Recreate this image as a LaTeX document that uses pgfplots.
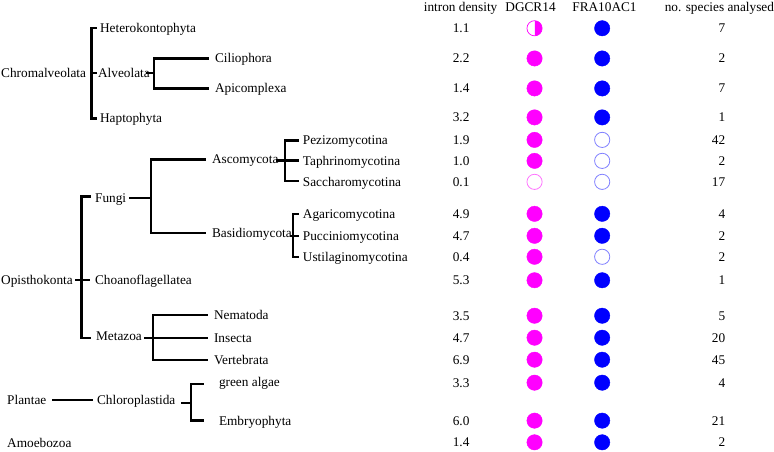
\documentclass[border=0pt]{standalone}
\usepackage{pgfplots}
\pgfplotsset{compat=1.18}
\usetikzlibrary{plotmarks}
\usepackage{fontspec}
\setmainfont{Liberation Serif}
\definecolor{mag}{RGB}{255,0,255}
\definecolor{blu}{RGB}{0,0,255}
\begin{document}
\begin{tikzpicture}[font=\fontsize{13.3}{15}\selectfont]
\begin{axis}[scale only axis, width=774pt, height=452pt,
  xmin=0, xmax=774, ymin=0, ymax=452, y dir=reverse, hide axis, clip=false,
  tree/.style={black, line width=2.3pt, mark=none, line join=miter, line cap=rect}]
% ---- tree lines ----
\addplot[tree] coordinates {(96,28.3)(91.7,28.3)(91.7,118.5)(96,118.5)};
\addplot[tree] coordinates {(91.7,73)(96,73)};
\addplot[tree] coordinates {(147,73)(154,73)};
\addplot[tree] coordinates {(208,58.5)(154,58.5)(154,88.5)(208,88.5)};
\addplot[tree] coordinates {(90,196.7)(81.7,196.7)(81.7,338)(90,338)};
\addplot[tree] coordinates {(76,280.5)(89,280.5)};
\addplot[tree] coordinates {(130,198)(151,198)};
\addplot[tree] coordinates {(205,159.5)(151,159.5)(151,233.5)(205,233.5)};
\addplot[tree] coordinates {(277,160.5)(298,160.5)};
\addplot[tree] coordinates {(298,140.5)(285,140.5)(285,181.5)(298,181.5)};
\addplot[tree] coordinates {(298,214)(293.3,214)(293.3,257)(298,257)};
\addplot[tree] coordinates {(291,236)(298,236)};
\addplot[tree] coordinates {(145,338)(207,338)};
\addplot[tree] coordinates {(207,315)(153,315)(153,360)(207,360)};
\addplot[tree, line width=1.8pt] coordinates {(53,400.5)(92,400.5)};
\addplot[tree] coordinates {(182,403)(191,403)};
\addplot[tree] coordinates {(203,384)(191,384)(191,421)(203,421)};
% ---- circles ----
\addplot[only marks, mark=*, mark size=7.7pt, mark options={draw=mag, fill=mag}] coordinates {
(535,58.5)(535,88.5)(535,117.5)(535,140)(535,161)(535,214)(535,236)(535,257)(535,280.5)
(535,316)(535,338)(535,360)(535,383)(535,421)(535,442.7)};
\addplot[only marks, mark=o, mark size=7.6pt, mark options={draw=mag!55, line width=0.8pt}] coordinates {(535,182)};
\addplot[only marks, mark=halfcircle*, mark size=7.6pt, mark options={draw=mag, fill=mag, line width=0.7pt, rotate=-90}] coordinates {(535,28.3)};
\addplot[only marks, mark=*, mark size=7.7pt, mark options={draw=blu, fill=blu}] coordinates {
(602.7,28.3)(602.7,58.5)(602.7,88.5)(602.7,117.5)(602.7,214)(602.7,236)(602.7,280.5)
(602.7,316)(602.7,338)(602.7,360)(602.7,383)(602.7,421)(602.7,442.7)};
\addplot[only marks, mark=o, mark size=7.6pt, mark options={draw=blu!50, line width=0.8pt}] coordinates {
(602.7,140)(602.7,161)(602.7,182)(602.7,257)};
% ---- tree labels ----
\begin{scope}[every node/.style={anchor=base west, inner sep=0pt, text=black}]
\node at (axis cs:1,77.5) {Chromalveolata};
\node at (axis cs:100,32.8) {Heterokontophyta};
\node at (axis cs:98,77.5) {Alveolata};
\node at (axis cs:215,63) {Ciliophora};
\node at (axis cs:215,93) {Apicomplexa};
\node at (axis cs:100,123) {Haptophyta};
\node at (axis cs:95,202.5) {Fungi};
\node at (axis cs:212,164) {Ascomycota};
\node at (axis cs:212,238) {Basidiomycota};
\node at (axis cs:303,144.5) {Pezizomycotina};
\node at (axis cs:303,165.5) {Taphrinomycotina};
\node at (axis cs:303,186.5) {Saccharomycotina};
\node at (axis cs:303,218.5) {Agaricomycotina};
\node at (axis cs:303,240.5) {Pucciniomycotina};
\node at (axis cs:303,261.5) {Ustilaginomycotina};
\node at (axis cs:1,285) {Opisthokonta};
\node at (axis cs:95,285) {Choanoflagellatea};
\node at (axis cs:96,341) {Metazoa};
\node at (axis cs:214,319.5) {Nematoda};
\node at (axis cs:214,342.5) {Insecta};
\node at (axis cs:214,364.5) {Vertebrata};
\node at (axis cs:7,405) {Plantae};
\node at (axis cs:97,405) {Chloroplastida};
\node at (axis cs:219,386.5) {green algae};
\node at (axis cs:219,425.5) {Embryophyta};
\node at (axis cs:7,447.5) {Amoebozoa};
\end{scope}
% ---- headers ----
\begin{scope}[every node/.style={anchor=base, inner sep=0pt, text=black}]
\node at (axis cs:461,11.8) {intron density};
\node at (axis cs:531,11.8) {DGCR14};
\node at (axis cs:605,11.8) {FRA10AC1};
\node at (axis cs:720,11.8) {no. species analysed};
% intron density values
\node at (axis cs:461.5,32.8) {1.1};
\node at (axis cs:461.5,63) {2.2};
\node at (axis cs:461.5,93) {1.4};
\node at (axis cs:461.5,122) {3.2};
\node at (axis cs:461.5,144.5) {1.9};
\node at (axis cs:461.5,165.5) {1.0};
\node at (axis cs:461.5,186.5) {0.1};
\node at (axis cs:461.5,218.5) {4.9};
\node at (axis cs:461.5,240.5) {4.7};
\node at (axis cs:461.5,261.5) {0.4};
\node at (axis cs:461.5,285) {5.3};
\node at (axis cs:461.5,320.5) {3.5};
\node at (axis cs:461.5,342.5) {4.7};
\node at (axis cs:461.5,364.5) {6.9};
\node at (axis cs:461.5,387.5) {3.3};
\node at (axis cs:461.5,425.5) {6.0};
\node at (axis cs:461.5,447.2) {1.4};
\end{scope}
\begin{scope}[every node/.style={anchor=base east, inner sep=0pt, text=black}]
\node at (axis cs:726,32.8) {7};
\node at (axis cs:726,63) {2};
\node at (axis cs:726,93) {7};
\node at (axis cs:726,122) {1};
\node at (axis cs:726,144.5) {42};
\node at (axis cs:726,165.5) {2};
\node at (axis cs:726,186.5) {17};
\node at (axis cs:726,218.5) {4};
\node at (axis cs:726,240.5) {2};
\node at (axis cs:726,261.5) {2};
\node at (axis cs:726,285) {1};
\node at (axis cs:726,320.5) {5};
\node at (axis cs:726,342.5) {20};
\node at (axis cs:726,364.5) {45};
\node at (axis cs:726,387.5) {4};
\node at (axis cs:726,425.5) {21};
\node at (axis cs:726,447.2) {2};
\end{scope}
\end{axis}
\path (current axis.south west) rectangle (current axis.north east);
\end{tikzpicture}
\end{document}
